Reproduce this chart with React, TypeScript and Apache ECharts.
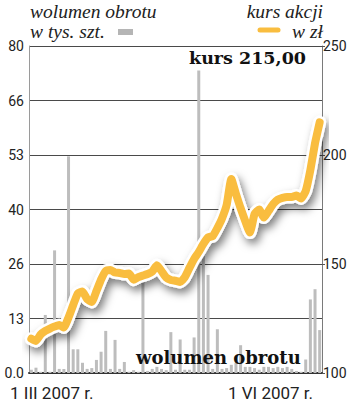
import React, { useEffect, useRef } from "react";
import * as echarts from "echarts";

const days: string[] = Array.from({ length: 63 }, (_, i) => `d${i + 1}`);

const volume: number[] = [
  0.8, 1.3, 0.3, 14.2, 0.3, 30, 1, 1, 53, 5.8,
  5.8, 2.5, 1, 1.2, 3.2, 5.2, 10.3, 1, 8.1, 1,
  2.7, 0.3, 0.7, 0.3, 22.3, 0.5, 1, 1.5, 1, 0.7,
  10, 0.8, 8.2, 0.8, 0.8, 8.7, 74, 33, 24, 1,
  10.7, 1, 1.2, 2, 2.5, 6.8, 1.5, 1.5, 1.2, 0.8,
  1.5, 1.5, 1.2, 1.5, 1.2, 1.5, 1, 0.5, 0.3, 3.3,
  18, 20.5, 10.5,
];

const price: number[] = [
  115.7, 114.7, 117.7, 119.3, 120.4, 121.3, 122.0, 120.9, 125.5, 131.2,
  136.5, 137.4, 133.9, 132.6, 137.6, 142.9, 146.8, 147.2, 146.1, 145.9,
  145.4, 145.6, 142.8, 144.0, 144.7, 145.4, 146.5, 149.4, 146.7, 143.8,
  142.7, 142.3, 141.8, 143.9, 148.2, 152.3, 155.5, 159.2, 162.2, 162.8,
  166.5, 170.9, 177.1, 189.0, 182.1, 175.6, 169.7, 164.4, 172.9, 175.0,
  171.3, 174.3, 177.5, 179.5, 180.3, 180.7, 180.7, 181.4, 180.1, 183.5,
  193.1, 205.4, 215.0,
];

const leftTicks: string[] = ["0.0", "13", "26", "40", "53", "66", "80"];
const dateLabels: string[] = ["1 III 2007 r.", "1 VI 2007 r."];

const ORANGE = "#F9BD3F";
const BAR = "#BDBDBD";

export default function App() {
  const ref = useRef<HTMLDivElement>(null);
  useEffect(() => {
    if (!ref.current) return;
    const chart = echarts.init(ref.current, undefined, { renderer: "svg" });
    const sans = "Roboto";
    const legendFont = "italic 19.5px 'Liberation Serif'";
    chart.setOption({
      animation: false,
      backgroundColor: "#ffffff",
      grid: { left: 29, right: 28, top: 46, bottom: 36, containLabel: false },
      xAxis: {
        type: "category",
        data: days,
        boundaryGap: true,
        axisLine: { show: true, lineStyle: { color: "#333", width: 2 } },
        axisTick: { show: false },
        axisLabel: { show: false },
        splitLine: { show: false },
      },
      yAxis: [
        {
          type: "value",
          min: 0,
          max: 80,
          interval: 80 / 6,
          position: "left",
          axisLine: { show: true, lineStyle: { color: "#9a9a9a", width: 1 } },
          axisTick: { show: false },
          axisLabel: {
            color: "#222",
            fontFamily: sans,
            fontSize: 14,
            margin: 5,
            formatter: (v: number) => leftTicks[Math.round(v / (80 / 6))] ?? "",
          },
          splitLine: { show: true, lineStyle: { color: "#4a4a4a", width: 1 } },
        },
        {
          type: "value",
          min: 100,
          max: 250,
          interval: 50,
          position: "right",
          axisLine: { show: true, lineStyle: { color: "#7a7a7a", width: 1 } },
          axisTick: { show: true, length: 3, lineStyle: { color: "#555" } },
          axisLabel: { color: "#222", fontFamily: sans, fontSize: 14, margin: 1 },
          splitLine: { show: false },
        },
      ],
      series: [
        {
          type: "bar",
          name: "wolumen",
          data: volume,
          yAxisIndex: 0,
          barWidth: 3,
          itemStyle: { color: BAR },
          z: 2,
        },
        {
          type: "line",
          name: "halo",
          data: price,
          yAxisIndex: 1,
          symbol: "none",
          smooth: 0.15,
          lineStyle: {
            color: "#ffffff",
            width: 13,
            cap: "round",
            join: "round",
            shadowColor: "rgba(0,0,0,0.5)",
            shadowBlur: 8,
            shadowOffsetX: 3,
            shadowOffsetY: 5,
          },
          z: 3,
        },
        {
          type: "line",
          name: "kurs",
          data: price,
          yAxisIndex: 1,
          symbol: "none",
          smooth: 0.15,
          lineStyle: { color: ORANGE, width: 8, cap: "round", join: "round" },
          z: 4,
        },
      ],
      graphic: [
        {
          type: "text",
          left: 30,
          top: 1,
          style: { text: "wolumen obrotu", font: legendFont, fill: "#222" },
        },
        {
          type: "text",
          left: 30,
          top: 21,
          style: { text: "w tys. szt.", font: legendFont, fill: "#222" },
        },
        {
          type: "rect",
          shape: { x: 118, y: 29, width: 15, height: 6 },
          style: { fill: "#B5B5B5" },
        },
        {
          type: "text",
          right: 27,
          top: 1,
          style: { text: "kurs akcji", font: legendFont, fill: "#222" },
        },
        {
          type: "text",
          right: 27,
          top: 21,
          style: { text: "w zł", font: legendFont, fill: "#222" },
        },
        {
          type: "line",
          shape: { x1: 260, y1: 30, x2: 278, y2: 30 },
          style: { stroke: ORANGE, lineWidth: 5, lineCap: "round" },
        },
        {
          type: "text",
          left: 189,
          top: 49,
          z: 10,
          style: {
            text: "kurs 215,00",
            font: "bold 17.5px 'DejaVu Serif'",
            fill: "#111",
          },
        },
        {
          type: "text",
          left: 136,
          top: 348,
          z: 10,
          style: {
            text: "wolumen obrotu",
            font: "bold 18px 'DejaVu Serif'",
            fill: "#111",
          },
        },
        {
          type: "text",
          left: 10,
          top: 384,
          style: { text: dateLabels[0], font: "17px Roboto", fill: "#222" },
        },
        {
          type: "text",
          left: 228,
          top: 384,
          style: { text: dateLabels[1], font: "17px Roboto", fill: "#222" },
        },
      ],
    });
    return () => chart.dispose();
  }, []);
  return (
    <div
      ref={ref}
      style={{ position: "fixed", left: 0, top: 0, width: 350, height: 409 }}
    />
  );
}
